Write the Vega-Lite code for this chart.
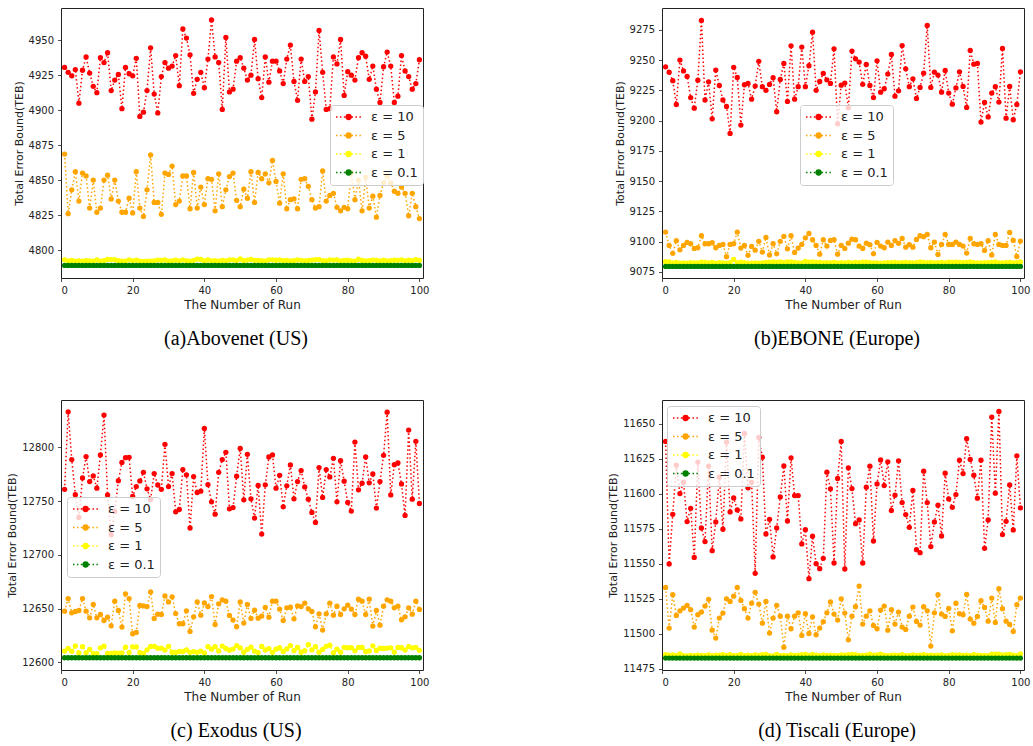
{
"$schema": "https://vega.github.io/schema/vega-lite/v6.json",
"background": "white",
"padding": {"left": 6, "top": 7, "right": 2, "bottom": 5},
"columns": 2,
"spacing": {"row": 50, "column": 177},
"resolve": {"scale": {"color": "independent", "x": "independent", "y": "independent"}, "legend": {"color": "independent"}},
"config": {
 "view": {"stroke": "#222", "strokeWidth": 1},
 "axis": {"grid": false, "domain": false, "tickColor": "#222", "tickSize": 3.5, "tickWidth": 0.8, "labelFont": "DejaVu Sans", "labelFontSize": 10, "labelColor": "#222", "titleFont": "DejaVu Sans", "titleFontWeight": "normal", "titleColor": "#222", "labelPadding": 4, "titlePadding": 4},
 "axisY": {"titleFontSize": 11},
 "axisX": {"titleFontSize": 12},
 "legend": {"labelFont": "DejaVu Sans", "labelFontSize": 13, "labelColor": "#222", "symbolType": "M-1,0H-0.75M-0.35,0H-0.1M0.3,0H0.55M1.6,0H1.85M2.25,0H2.5M2.9,0H3.15M1.5,0A0.4,0.4,0,1,1,0.7,0A0.4,0.4,0,1,1,1.5,0M1.4,0A0.3,0.3,0,1,1,0.8,0A0.3,0.3,0,1,1,1.4,0M1.3,0A0.2,0.2,0,1,1,0.9,0A0.2,0.2,0,1,1,1.3,0M1.2,0A0.1,0.1,0,1,1,1,0A0.1,0.1,0,1,1,1.2,0", "symbolSize": 144, "symbolStrokeWidth": 1.5, "symbolOpacity": 1, "rowPadding": 4.5, "padding": 5, "fillColor": "rgba(255,255,255,0.8)", "strokeColor": "#cccccc", "cornerRadius": 3},
 "title": {"orient": "bottom", "anchor": "middle", "frame": "group", "font": "Liberation Serif", "fontSize": 20, "fontWeight": "normal", "color": "#000", "offset": 18, "dx": -6}
},
"datasets": {
"a": [
{"r":1,"s1":4930.5,"s2":4868.6,"s3":4793,"s4":4789},
{"r":2,"s1":4927,"s2":4826,"s3":4792.2,"s4":4789},
{"r":3,"s1":4924.5,"s2":4843,"s3":4792.5,"s4":4789},
{"r":4,"s1":4929,"s2":4856,"s3":4792,"s4":4789},
{"r":5,"s1":4905,"s2":4835,"s3":4792.3,"s4":4789},
{"r":6,"s1":4928.5,"s2":4855,"s3":4792.1,"s4":4789},
{"r":7,"s1":4938,"s2":4853,"s3":4792.4,"s4":4789},
{"r":8,"s1":4926.5,"s2":4830,"s3":4792.2,"s4":4789},
{"r":9,"s1":4917,"s2":4850,"s3":4792,"s4":4789},
{"r":10,"s1":4912.5,"s2":4827,"s3":4792.9,"s4":4789},
{"r":11,"s1":4937.5,"s2":4830,"s3":4792.1,"s4":4789},
{"r":12,"s1":4934,"s2":4850,"s3":4792.4,"s4":4789},
{"r":13,"s1":4941,"s2":4853.5,"s3":4793.3,"s4":4789},
{"r":14,"s1":4914,"s2":4836.5,"s3":4793.2,"s4":4789},
{"r":15,"s1":4921.5,"s2":4850,"s3":4793.1,"s4":4789},
{"r":16,"s1":4925.5,"s2":4835,"s3":4792.4,"s4":4789},
{"r":17,"s1":4901,"s2":4827,"s3":4792,"s4":4789},
{"r":18,"s1":4930.5,"s2":4827,"s3":4792.1,"s4":4789},
{"r":19,"s1":4926,"s2":4837,"s3":4793,"s4":4789},
{"r":20,"s1":4924.5,"s2":4826.5,"s3":4792.3,"s4":4789},
{"r":21,"s1":4937,"s2":4856,"s3":4792.8,"s4":4789},
{"r":22,"s1":4895.5,"s2":4830,"s3":4792.1,"s4":4789},
{"r":23,"s1":4898.5,"s2":4824,"s3":4791.9,"s4":4789},
{"r":24,"s1":4914,"s2":4843,"s3":4792,"s4":4789},
{"r":25,"s1":4944.5,"s2":4868,"s3":4792.1,"s4":4789},
{"r":26,"s1":4911.5,"s2":4834,"s3":4792.3,"s4":4789},
{"r":27,"s1":4898,"s2":4834,"s3":4792.8,"s4":4789},
{"r":28,"s1":4924,"s2":4825.5,"s3":4792.5,"s4":4789},
{"r":29,"s1":4934,"s2":4855,"s3":4792.9,"s4":4789},
{"r":30,"s1":4930,"s2":4854,"s3":4792,"s4":4789},
{"r":31,"s1":4931.5,"s2":4860,"s3":4792.2,"s4":4789},
{"r":32,"s1":4939,"s2":4832.5,"s3":4792.8,"s4":4789},
{"r":33,"s1":4917.5,"s2":4835,"s3":4792.3,"s4":4789},
{"r":34,"s1":4958,"s2":4853,"s3":4792.9,"s4":4789},
{"r":35,"s1":4951.5,"s2":4853,"s3":4792.3,"s4":4789},
{"r":36,"s1":4939.5,"s2":4829.5,"s3":4792.1,"s4":4789},
{"r":37,"s1":4912,"s2":4855.5,"s3":4792.6,"s4":4789},
{"r":38,"s1":4922,"s2":4830,"s3":4793.5,"s4":4789},
{"r":39,"s1":4927,"s2":4845,"s3":4793.3,"s4":4789},
{"r":40,"s1":4916,"s2":4832.5,"s3":4792.2,"s4":4789},
{"r":41,"s1":4936.5,"s2":4851,"s3":4792.9,"s4":4789},
{"r":42,"s1":4964.5,"s2":4850.5,"s3":4792.3,"s4":4789},
{"r":43,"s1":4938,"s2":4828,"s3":4792.4,"s4":4789},
{"r":44,"s1":4934,"s2":4854.5,"s3":4792,"s4":4789},
{"r":45,"s1":4900.5,"s2":4831,"s3":4792.6,"s4":4789},
{"r":46,"s1":4952,"s2":4843,"s3":4792.3,"s4":4789},
{"r":47,"s1":4913,"s2":4852.5,"s3":4792.9,"s4":4789},
{"r":48,"s1":4915,"s2":4855,"s3":4793,"s4":4789},
{"r":49,"s1":4935,"s2":4835.5,"s3":4792.4,"s4":4789},
{"r":50,"s1":4937.5,"s2":4831,"s3":4793.6,"s4":4789},
{"r":51,"s1":4930,"s2":4843.5,"s3":4792.4,"s4":4789},
{"r":52,"s1":4921.5,"s2":4837,"s3":4792.8,"s4":4789},
{"r":53,"s1":4925,"s2":4856,"s3":4793.3,"s4":4789},
{"r":54,"s1":4950.5,"s2":4834,"s3":4792.6,"s4":4789},
{"r":55,"s1":4922.5,"s2":4855.5,"s3":4792.6,"s4":4789},
{"r":56,"s1":4909,"s2":4851,"s3":4792.4,"s4":4789},
{"r":57,"s1":4938,"s2":4854.5,"s3":4792.1,"s4":4789},
{"r":58,"s1":4920,"s2":4848,"s3":4793,"s4":4789},
{"r":59,"s1":4935,"s2":4864,"s3":4793,"s4":4789},
{"r":60,"s1":4935,"s2":4849,"s3":4792.7,"s4":4789},
{"r":61,"s1":4928,"s2":4833.5,"s3":4792.9,"s4":4789},
{"r":62,"s1":4919,"s2":4854.5,"s3":4792.4,"s4":4789},
{"r":63,"s1":4936.5,"s2":4829.5,"s3":4792.6,"s4":4789},
{"r":64,"s1":4946.5,"s2":4836,"s3":4792.3,"s4":4789},
{"r":65,"s1":4920.5,"s2":4836.5,"s3":4792.4,"s4":4789},
{"r":66,"s1":4907,"s2":4829.5,"s3":4792.9,"s4":4789},
{"r":67,"s1":4936.5,"s2":4850.5,"s3":4792.6,"s4":4789},
{"r":68,"s1":4920.5,"s2":4851,"s3":4792.3,"s4":4789},
{"r":69,"s1":4924,"s2":4845.5,"s3":4792.5,"s4":4789},
{"r":70,"s1":4893.5,"s2":4836,"s3":4792.8,"s4":4789},
{"r":71,"s1":4913,"s2":4830,"s3":4793.1,"s4":4789},
{"r":72,"s1":4957,"s2":4831,"s3":4793.2,"s4":4789},
{"r":73,"s1":4927,"s2":4856.5,"s3":4792.4,"s4":4789},
{"r":74,"s1":4900.5,"s2":4835,"s3":4792.2,"s4":4789},
{"r":75,"s1":4901,"s2":4839,"s3":4792.9,"s4":4789},
{"r":76,"s1":4938,"s2":4840.5,"s3":4792.8,"s4":4789},
{"r":77,"s1":4933,"s2":4830.5,"s3":4792.9,"s4":4789},
{"r":78,"s1":4950.5,"s2":4828,"s3":4792.3,"s4":4789},
{"r":79,"s1":4910.5,"s2":4830.5,"s3":4792.5,"s4":4789},
{"r":80,"s1":4927.5,"s2":4829.5,"s3":4792.7,"s4":4789},
{"r":81,"s1":4925,"s2":4855.5,"s3":4792.3,"s4":4789},
{"r":82,"s1":4921.5,"s2":4836,"s3":4792,"s4":4789},
{"r":83,"s1":4937.5,"s2":4850,"s3":4793.4,"s4":4789},
{"r":84,"s1":4941,"s2":4828,"s3":4792.5,"s4":4789},
{"r":85,"s1":4938.5,"s2":4852,"s3":4792.3,"s4":4789},
{"r":86,"s1":4922,"s2":4830,"s3":4792.4,"s4":4789},
{"r":87,"s1":4931.5,"s2":4838.5,"s3":4792.8,"s4":4789},
{"r":88,"s1":4915,"s2":4823.5,"s3":4792.6,"s4":4789},
{"r":89,"s1":4905.5,"s2":4839,"s3":4792.2,"s4":4789},
{"r":90,"s1":4931,"s2":4848,"s3":4792.7,"s4":4789},
{"r":91,"s1":4941.5,"s2":4853,"s3":4792.3,"s4":4789},
{"r":92,"s1":4931.5,"s2":4848,"s3":4792.4,"s4":4789},
{"r":93,"s1":4905.5,"s2":4842,"s3":4792.7,"s4":4789},
{"r":94,"s1":4910,"s2":4840.5,"s3":4792.6,"s4":4789},
{"r":95,"s1":4939,"s2":4845,"s3":4792.9,"s4":4789},
{"r":96,"s1":4928,"s2":4840.5,"s3":4792.3,"s4":4789},
{"r":97,"s1":4924,"s2":4824.5,"s3":4792.7,"s4":4789},
{"r":98,"s1":4915,"s2":4840.5,"s3":4792.4,"s4":4789},
{"r":99,"s1":4919,"s2":4831,"s3":4793.1,"s4":4789},
{"r":100,"s1":4936,"s2":4822.5,"s3":4792.6,"s4":4789}
],
"b": [
{"r":1,"s1":9244.4,"s2":9107.9,"s3":9083.5,"s4":9079.6},
{"r":2,"s1":9240,"s2":9096.9,"s3":9083.3,"s4":9079.6},
{"r":3,"s1":9233,"s2":9090.3,"s3":9082.5,"s4":9079.6},
{"r":4,"s1":9213.3,"s2":9100.8,"s3":9082.8,"s4":9079.6},
{"r":5,"s1":9250,"s2":9093.3,"s3":9082.2,"s4":9079.6},
{"r":6,"s1":9241,"s2":9096.9,"s3":9082.5,"s4":9079.6},
{"r":7,"s1":9236.5,"s2":9099.4,"s3":9082.3,"s4":9079.6},
{"r":8,"s1":9219,"s2":9098.3,"s3":9082.6,"s4":9079.6},
{"r":9,"s1":9210.3,"s2":9094.4,"s3":9082.4,"s4":9079.6},
{"r":10,"s1":9233.4,"s2":9095,"s3":9082.5,"s4":9079.6},
{"r":11,"s1":9282.7,"s2":9104.9,"s3":9083,"s4":9079.6},
{"r":12,"s1":9217,"s2":9098.3,"s3":9082.9,"s4":9079.6},
{"r":13,"s1":9232,"s2":9098.3,"s3":9082.5,"s4":9079.6},
{"r":14,"s1":9201.5,"s2":9099.1,"s3":9082.9,"s4":9079.6},
{"r":15,"s1":9241.7,"s2":9095,"s3":9082.3,"s4":9079.6},
{"r":16,"s1":9229,"s2":9096.9,"s3":9082.6,"s4":9079.6},
{"r":17,"s1":9217,"s2":9097.7,"s3":9082.4,"s4":9079.6},
{"r":18,"s1":9211.7,"s2":9087.6,"s3":9082.2,"s4":9079.6},
{"r":19,"s1":9189.4,"s2":9097.7,"s3":9082.6,"s4":9079.6},
{"r":20,"s1":9244,"s2":9098.3,"s3":9085.3,"s4":9079.6},
{"r":21,"s1":9235.6,"s2":9107.9,"s3":9082.4,"s4":9079.6},
{"r":22,"s1":9196.3,"s2":9094.7,"s3":9083,"s4":9079.6},
{"r":23,"s1":9229.6,"s2":9096.9,"s3":9082.6,"s4":9079.6},
{"r":24,"s1":9230.7,"s2":9088.7,"s3":9082.3,"s4":9079.6},
{"r":25,"s1":9217.7,"s2":9096.1,"s3":9082.2,"s4":9079.6},
{"r":26,"s1":9228.5,"s2":9093,"s3":9082.5,"s4":9079.6},
{"r":27,"s1":9249,"s2":9100.3,"s3":9082.3,"s4":9079.6},
{"r":28,"s1":9228,"s2":9091.4,"s3":9082.5,"s4":9079.6},
{"r":29,"s1":9225,"s2":9103.5,"s3":9082.8,"s4":9079.6},
{"r":30,"s1":9229.9,"s2":9089,"s3":9083.1,"s4":9079.6},
{"r":31,"s1":9235.4,"s2":9098.3,"s3":9083.4,"s4":9079.6},
{"r":32,"s1":9207.3,"s2":9090,"s3":9082.9,"s4":9079.6},
{"r":33,"s1":9234,"s2":9100.3,"s3":9083.2,"s4":9079.6},
{"r":34,"s1":9247.2,"s2":9104.4,"s3":9082.6,"s4":9079.6},
{"r":35,"s1":9215.8,"s2":9094.1,"s3":9083.4,"s4":9079.6},
{"r":36,"s1":9261.8,"s2":9104.9,"s3":9083.2,"s4":9079.6},
{"r":37,"s1":9217.7,"s2":9091.1,"s3":9082.8,"s4":9079.6},
{"r":38,"s1":9228,"s2":9094.7,"s3":9082.5,"s4":9079.6},
{"r":39,"s1":9260.7,"s2":9097.7,"s3":9082.4,"s4":9079.6},
{"r":40,"s1":9228,"s2":9103.2,"s3":9083.8,"s4":9079.6},
{"r":41,"s1":9245.3,"s2":9106.8,"s3":9083.1,"s4":9079.6},
{"r":42,"s1":9273,"s2":9101.6,"s3":9083.2,"s4":9079.6},
{"r":43,"s1":9225,"s2":9096.9,"s3":9082.8,"s4":9079.6},
{"r":44,"s1":9232.3,"s2":9089.7,"s3":9082.9,"s4":9079.6},
{"r":45,"s1":9239,"s2":9101.6,"s3":9082.4,"s4":9079.6},
{"r":46,"s1":9233.7,"s2":9096.4,"s3":9082.6,"s4":9079.6},
{"r":47,"s1":9230.7,"s2":9101,"s3":9082.4,"s4":9079.6},
{"r":48,"s1":9259.3,"s2":9101.6,"s3":9082.8,"s4":9079.6},
{"r":49,"s1":9197.4,"s2":9089.7,"s3":9082.5,"s4":9079.6},
{"r":50,"s1":9229.3,"s2":9097,"s3":9082.6,"s4":9079.6},
{"r":51,"s1":9231,"s2":9094.4,"s3":9082.5,"s4":9079.6},
{"r":52,"s1":9210.6,"s2":9098.8,"s3":9082.8,"s4":9079.6},
{"r":53,"s1":9257.4,"s2":9102.1,"s3":9082.4,"s4":9079.6},
{"r":54,"s1":9251,"s2":9101.6,"s3":9082.9,"s4":9079.6},
{"r":55,"s1":9248.3,"s2":9096.4,"s3":9082.7,"s4":9079.6},
{"r":56,"s1":9230,"s2":9094.4,"s3":9083.1,"s4":9079.6},
{"r":57,"s1":9246.4,"s2":9098.8,"s3":9083,"s4":9079.6},
{"r":58,"s1":9229,"s2":9097.5,"s3":9082.6,"s4":9079.6},
{"r":59,"s1":9219,"s2":9090,"s3":9082.4,"s4":9079.6},
{"r":60,"s1":9249.4,"s2":9099.4,"s3":9082.5,"s4":9079.6},
{"r":61,"s1":9223.5,"s2":9096.4,"s3":9082.3,"s4":9079.6},
{"r":62,"s1":9226.3,"s2":9095,"s3":9082.5,"s4":9079.6},
{"r":63,"s1":9238.4,"s2":9099.7,"s3":9082.6,"s4":9079.6},
{"r":64,"s1":9254.6,"s2":9096.9,"s3":9082.7,"s4":9079.6},
{"r":65,"s1":9220.2,"s2":9100.8,"s3":9082.9,"s4":9079.6},
{"r":66,"s1":9224.6,"s2":9098.6,"s3":9082.4,"s4":9079.6},
{"r":67,"s1":9262,"s2":9102.7,"s3":9082.6,"s4":9079.6},
{"r":68,"s1":9242.8,"s2":9095.5,"s3":9082.8,"s4":9079.6},
{"r":69,"s1":9228,"s2":9097.5,"s3":9082.7,"s4":9079.6},
{"r":70,"s1":9234.5,"s2":9095.5,"s3":9082.5,"s4":9079.6},
{"r":71,"s1":9218.3,"s2":9101.9,"s3":9082.6,"s4":9079.6},
{"r":72,"s1":9227.4,"s2":9104.9,"s3":9083.2,"s4":9079.6},
{"r":73,"s1":9239.2,"s2":9104.1,"s3":9082.8,"s4":9079.6},
{"r":74,"s1":9278.6,"s2":9106,"s3":9082.6,"s4":9079.6},
{"r":75,"s1":9227.4,"s2":9095,"s3":9082.9,"s4":9079.6},
{"r":76,"s1":9240,"s2":9099.7,"s3":9082.4,"s4":9079.6},
{"r":77,"s1":9237.6,"s2":9089.5,"s3":9082.6,"s4":9079.6},
{"r":78,"s1":9223.5,"s2":9097.7,"s3":9082.9,"s4":9079.6},
{"r":79,"s1":9241.4,"s2":9106,"s3":9082.5,"s4":9079.6},
{"r":80,"s1":9222.7,"s2":9097.7,"s3":9083,"s4":9079.6},
{"r":81,"s1":9213.6,"s2":9097.7,"s3":9082.9,"s4":9079.6},
{"r":82,"s1":9227,"s2":9099.7,"s3":9083.1,"s4":9079.6},
{"r":83,"s1":9240.3,"s2":9097.7,"s3":9082.8,"s4":9079.6},
{"r":84,"s1":9228.2,"s2":9096.4,"s3":9082.6,"s4":9079.6},
{"r":85,"s1":9210.9,"s2":9090.6,"s3":9082.9,"s4":9079.6},
{"r":86,"s1":9258,"s2":9102.7,"s3":9083.2,"s4":9079.6},
{"r":87,"s1":9246.6,"s2":9098.3,"s3":9082.6,"s4":9079.6},
{"r":88,"s1":9247.2,"s2":9097.7,"s3":9082.5,"s4":9079.6},
{"r":89,"s1":9198.8,"s2":9098.3,"s3":9082.4,"s4":9079.6},
{"r":90,"s1":9215,"s2":9092.8,"s3":9082.7,"s4":9079.6},
{"r":91,"s1":9203,"s2":9100.8,"s3":9082.6,"s4":9079.6},
{"r":92,"s1":9222.7,"s2":9089,"s3":9082.9,"s4":9079.6},
{"r":93,"s1":9228,"s2":9106,"s3":9083.3,"s4":9079.6},
{"r":94,"s1":9215.3,"s2":9097.7,"s3":9082.5,"s4":9079.6},
{"r":95,"s1":9259.6,"s2":9096.9,"s3":9082.4,"s4":9079.6},
{"r":96,"s1":9202,"s2":9096.9,"s3":9082.7,"s4":9079.6},
{"r":97,"s1":9228.2,"s2":9107.6,"s3":9082.9,"s4":9079.6},
{"r":98,"s1":9200.7,"s2":9101,"s3":9082.5,"s4":9079.6},
{"r":99,"s1":9213.3,"s2":9087.8,"s3":9082.8,"s4":9079.6},
{"r":100,"s1":9240.3,"s2":9100.5,"s3":9083.4,"s4":9079.6}
],
"c": [
{"r":1,"s1":12761,"s2":12647.7,"s3":12610.6,"s4":12604.4},
{"r":2,"s1":12833,"s2":12659.4,"s3":12613.1,"s4":12604.4},
{"r":3,"s1":12788.6,"s2":12646.2,"s3":12610.4,"s4":12604.4},
{"r":4,"s1":12756,"s2":12647.4,"s3":12615.3,"s4":12604.4},
{"r":5,"s1":12734.8,"s2":12648.3,"s3":12608.8,"s4":12604.4},
{"r":6,"s1":12771.6,"s2":12659.4,"s3":12614.7,"s4":12604.4},
{"r":7,"s1":12791.4,"s2":12647.7,"s3":12609.1,"s4":12604.4},
{"r":8,"s1":12768.2,"s2":12641.5,"s3":12612.2,"s4":12604.4},
{"r":9,"s1":12773.4,"s2":12653.9,"s3":12608.2,"s4":12604.4},
{"r":10,"s1":12762,"s2":12641.5,"s3":12608.2,"s4":12604.4},
{"r":11,"s1":12792.9,"s2":12644.6,"s3":12613.6,"s4":12604.4},
{"r":12,"s1":12830,"s2":12639,"s3":12615.1,"s4":12604.4},
{"r":13,"s1":12755.8,"s2":12642.1,"s3":12608.4,"s4":12604.4},
{"r":14,"s1":12718.8,"s2":12634.1,"s3":12608.4,"s4":12604.4},
{"r":15,"s1":12740.4,"s2":12657,"s3":12608.8,"s4":12604.4},
{"r":16,"s1":12769,"s2":12648.3,"s3":12608.7,"s4":12604.4},
{"r":17,"s1":12786,"s2":12632.9,"s3":12609,"s4":12604.4},
{"r":18,"s1":12790.4,"s2":12663.8,"s3":12614.2,"s4":12604.4},
{"r":19,"s1":12790.7,"s2":12659.4,"s3":12609.2,"s4":12604.4},
{"r":20,"s1":12754.3,"s2":12626.7,"s3":12614.5,"s4":12604.4},
{"r":21,"s1":12763.5,"s2":12627.9,"s3":12614.4,"s4":12604.4},
{"r":22,"s1":12768.8,"s2":12653,"s3":12609.2,"s4":12604.4},
{"r":23,"s1":12776.8,"s2":12652.6,"s3":12608.5,"s4":12604.4},
{"r":24,"s1":12761.4,"s2":12652,"s3":12611.8,"s4":12604.4},
{"r":25,"s1":12751.5,"s2":12665.6,"s3":12614.9,"s4":12604.4},
{"r":26,"s1":12775.6,"s2":12640.9,"s3":12615,"s4":12604.4},
{"r":27,"s1":12765,"s2":12644.9,"s3":12613.3,"s4":12604.4},
{"r":28,"s1":12761,"s2":12644.6,"s3":12613.3,"s4":12604.4},
{"r":29,"s1":12802.8,"s2":12661.9,"s3":12611.5,"s4":12604.4},
{"r":30,"s1":12763.5,"s2":12656.3,"s3":12615,"s4":12604.4},
{"r":31,"s1":12775.6,"s2":12661,"s3":12609.5,"s4":12604.4},
{"r":32,"s1":12740,"s2":12645.5,"s3":12609.3,"s4":12604.4},
{"r":33,"s1":12742.2,"s2":12636,"s3":12610.3,"s4":12604.4},
{"r":34,"s1":12779.3,"s2":12636,"s3":12610.2,"s4":12604.4},
{"r":35,"s1":12774.4,"s2":12648,"s3":12611.7,"s4":12604.4},
{"r":36,"s1":12725,"s2":12628.9,"s3":12609.4,"s4":12604.4},
{"r":37,"s1":12772.8,"s2":12642.4,"s3":12610.1,"s4":12604.4},
{"r":38,"s1":12758,"s2":12656.3,"s3":12609.4,"s4":12604.4},
{"r":39,"s1":12759.2,"s2":12644,"s3":12610.6,"s4":12604.4},
{"r":40,"s1":12817.6,"s2":12655.4,"s3":12608.6,"s4":12604.4},
{"r":41,"s1":12765.4,"s2":12652,"s3":12614.6,"s4":12604.4},
{"r":42,"s1":12749.3,"s2":12661.3,"s3":12612.4,"s4":12604.4},
{"r":43,"s1":12737.9,"s2":12635.3,"s3":12614.7,"s4":12604.4},
{"r":44,"s1":12776.8,"s2":12654.5,"s3":12610.7,"s4":12604.4},
{"r":45,"s1":12788.6,"s2":12658.2,"s3":12615.2,"s4":12604.4},
{"r":46,"s1":12795.4,"s2":12657,"s3":12613,"s4":12604.4},
{"r":47,"s1":12742.8,"s2":12643.7,"s3":12611.4,"s4":12604.4},
{"r":48,"s1":12744,"s2":12639.4,"s3":12612.5,"s4":12604.4},
{"r":49,"s1":12773.1,"s2":12633.2,"s3":12615.7,"s4":12604.4},
{"r":50,"s1":12799,"s2":12656.3,"s3":12613.5,"s4":12604.4},
{"r":51,"s1":12751.2,"s2":12636.6,"s3":12609.5,"s4":12604.4},
{"r":52,"s1":12793.5,"s2":12653.9,"s3":12612.2,"s4":12604.4},
{"r":53,"s1":12752.1,"s2":12640.9,"s3":12614.3,"s4":12604.4},
{"r":54,"s1":12734.2,"s2":12648.6,"s3":12610.5,"s4":12604.4},
{"r":55,"s1":12764.5,"s2":12641.2,"s3":12609.2,"s4":12604.4},
{"r":56,"s1":12719.4,"s2":12643.1,"s3":12614.9,"s4":12604.4},
{"r":57,"s1":12765.1,"s2":12651.1,"s3":12611.6,"s4":12604.4},
{"r":58,"s1":12791,"s2":12642.1,"s3":12612.9,"s4":12604.4},
{"r":59,"s1":12792.9,"s2":12657,"s3":12609.4,"s4":12604.4},
{"r":60,"s1":12762,"s2":12657,"s3":12612.4,"s4":12604.4},
{"r":61,"s1":12774,"s2":12649.6,"s3":12613.7,"s4":12604.4},
{"r":62,"s1":12744.7,"s2":12639,"s3":12610.3,"s4":12604.4},
{"r":63,"s1":12764.2,"s2":12650.8,"s3":12612.6,"s4":12604.4},
{"r":64,"s1":12783.6,"s2":12651.4,"s3":12615.6,"s4":12604.4},
{"r":65,"s1":12752.1,"s2":12640.6,"s3":12611,"s4":12604.4},
{"r":66,"s1":12768.2,"s2":12652.7,"s3":12613.9,"s4":12604.4},
{"r":67,"s1":12778.4,"s2":12652,"s3":12609.5,"s4":12604.4},
{"r":68,"s1":12763.2,"s2":12655.1,"s3":12610.9,"s4":12604.4},
{"r":69,"s1":12751.8,"s2":12649.9,"s3":12616.5,"s4":12604.4},
{"r":70,"s1":12739.5,"s2":12647.4,"s3":12611.7,"s4":12604.4},
{"r":71,"s1":12730.2,"s2":12633.2,"s3":12614.7,"s4":12604.4},
{"r":72,"s1":12781.2,"s2":12645.2,"s3":12609.6,"s4":12604.4},
{"r":73,"s1":12753.4,"s2":12630.1,"s3":12612.1,"s4":12604.4},
{"r":74,"s1":12779.3,"s2":12645.2,"s3":12615,"s4":12604.4},
{"r":75,"s1":12772.5,"s2":12655.1,"s3":12616,"s4":12604.4},
{"r":76,"s1":12789.8,"s2":12644,"s3":12609.1,"s4":12604.4},
{"r":77,"s1":12749.3,"s2":12652.3,"s3":12612.4,"s4":12604.4},
{"r":78,"s1":12787.6,"s2":12644.6,"s3":12609.6,"s4":12604.4},
{"r":79,"s1":12768.5,"s2":12649.9,"s3":12614.1,"s4":12604.4},
{"r":80,"s1":12748.7,"s2":12653.3,"s3":12613.7,"s4":12604.4},
{"r":81,"s1":12740.7,"s2":12649.6,"s3":12613.8,"s4":12604.4},
{"r":82,"s1":12804.9,"s2":12644.6,"s3":12610.8,"s4":12604.4},
{"r":83,"s1":12760.5,"s2":12658.8,"s3":12614,"s4":12604.4},
{"r":84,"s1":12766.6,"s2":12657,"s3":12614,"s4":12604.4},
{"r":85,"s1":12791,"s2":12644.6,"s3":12610.2,"s4":12604.4},
{"r":86,"s1":12767,"s2":12658.8,"s3":12610.7,"s4":12604.4},
{"r":87,"s1":12775.3,"s2":12633.8,"s3":12615.5,"s4":12604.4},
{"r":88,"s1":12743.5,"s2":12648.3,"s3":12611.2,"s4":12604.4},
{"r":89,"s1":12768.2,"s2":12634.7,"s3":12613.2,"s4":12604.4},
{"r":90,"s1":12792.6,"s2":12652.3,"s3":12613,"s4":12604.4},
{"r":91,"s1":12832.7,"s2":12658.2,"s3":12613.4,"s4":12604.4},
{"r":92,"s1":12755.8,"s2":12657,"s3":12613.6,"s4":12604.4},
{"r":93,"s1":12783.9,"s2":12650.8,"s3":12609.7,"s4":12604.4},
{"r":94,"s1":12785.5,"s2":12652.3,"s3":12614,"s4":12604.4},
{"r":95,"s1":12766,"s2":12639.7,"s3":12613.7,"s4":12604.4},
{"r":96,"s1":12736.7,"s2":12642.4,"s3":12611.5,"s4":12604.4},
{"r":97,"s1":12816,"s2":12650.8,"s3":12614.8,"s4":12604.4},
{"r":98,"s1":12751.8,"s2":12644.9,"s3":12613.6,"s4":12604.4},
{"r":99,"s1":12805.6,"s2":12657,"s3":12614,"s4":12604.4},
{"r":100,"s1":12747.8,"s2":12649.3,"s3":12611.3,"s4":12604.4}
],
"d": [
{"r":1,"s1":11637.4,"s2":11533,"s3":11485,"s4":11482.5},
{"r":2,"s1":11549.8,"s2":11504,"s3":11484.6,"s4":11482.5},
{"r":3,"s1":11585.3,"s2":11527.8,"s3":11484.8,"s4":11482.5},
{"r":4,"s1":11620.4,"s2":11513,"s3":11484.2,"s4":11482.5},
{"r":5,"s1":11600.1,"s2":11516.3,"s3":11485.6,"s4":11482.5},
{"r":6,"s1":11608.2,"s2":11518.3,"s3":11484.3,"s4":11482.5},
{"r":7,"s1":11580.1,"s2":11520.2,"s3":11484.1,"s4":11482.5},
{"r":8,"s1":11589.6,"s2":11517.1,"s3":11484.4,"s4":11482.5},
{"r":9,"s1":11554.5,"s2":11504.7,"s3":11484.2,"s4":11482.5},
{"r":10,"s1":11622.6,"s2":11513.5,"s3":11484.6,"s4":11482.5},
{"r":11,"s1":11575.5,"s2":11515.4,"s3":11484.5,"s4":11482.5},
{"r":12,"s1":11565.8,"s2":11519.7,"s3":11484.3,"s4":11482.5},
{"r":13,"s1":11619.7,"s2":11524.5,"s3":11484.8,"s4":11482.5},
{"r":14,"s1":11559.3,"s2":11502.5,"s3":11484.2,"s4":11482.5},
{"r":15,"s1":11579.8,"s2":11496.8,"s3":11484.7,"s4":11482.5},
{"r":16,"s1":11611.8,"s2":11511.1,"s3":11484.6,"s4":11482.5},
{"r":17,"s1":11574.6,"s2":11514.7,"s3":11484.9,"s4":11482.5},
{"r":18,"s1":11636.9,"s2":11524.9,"s3":11484.5,"s4":11482.5},
{"r":19,"s1":11587,"s2":11523,"s3":11485,"s4":11482.5},
{"r":20,"s1":11597,"s2":11526.8,"s3":11484.3,"s4":11482.5},
{"r":21,"s1":11588.4,"s2":11533,"s3":11484.5,"s4":11482.5},
{"r":22,"s1":11582,"s2":11523.7,"s3":11485.1,"s4":11482.5},
{"r":23,"s1":11643.1,"s2":11517.8,"s3":11484.3,"s4":11482.5},
{"r":24,"s1":11604.2,"s2":11511.1,"s3":11484.6,"s4":11482.5},
{"r":25,"s1":11608.2,"s2":11521.8,"s3":11484.2,"s4":11482.5},
{"r":26,"s1":11543.1,"s2":11529.5,"s3":11484.8,"s4":11482.5},
{"r":27,"s1":11640.2,"s2":11521.1,"s3":11484.5,"s4":11482.5},
{"r":28,"s1":11626.1,"s2":11507.5,"s3":11484.9,"s4":11482.5},
{"r":29,"s1":11571.2,"s2":11523,"s3":11485.2,"s4":11482.5},
{"r":30,"s1":11581.7,"s2":11500.4,"s3":11484.3,"s4":11482.5},
{"r":31,"s1":11554.8,"s2":11511.1,"s3":11484.1,"s4":11482.5},
{"r":32,"s1":11575.5,"s2":11520.2,"s3":11485.1,"s4":11482.5},
{"r":33,"s1":11597.7,"s2":11512.5,"s3":11484.3,"s4":11482.5},
{"r":34,"s1":11619.9,"s2":11490.3,"s3":11484.5,"s4":11482.5},
{"r":35,"s1":11580.5,"s2":11512.5,"s3":11484.2,"s4":11482.5},
{"r":36,"s1":11625.7,"s2":11503.5,"s3":11484.8,"s4":11482.5},
{"r":37,"s1":11598.7,"s2":11512.5,"s3":11484.4,"s4":11482.5},
{"r":38,"s1":11598.7,"s2":11514.9,"s3":11484.6,"s4":11482.5},
{"r":39,"s1":11564.1,"s2":11498.7,"s3":11484.9,"s4":11482.5},
{"r":40,"s1":11574.3,"s2":11514.2,"s3":11485.1,"s4":11482.5},
{"r":41,"s1":11539.3,"s2":11500.1,"s3":11484.4,"s4":11482.5},
{"r":42,"s1":11569.6,"s2":11512,"s3":11485.2,"s4":11482.5},
{"r":43,"s1":11550,"s2":11499.2,"s3":11484.6,"s4":11482.5},
{"r":44,"s1":11546.4,"s2":11504,"s3":11484.3,"s4":11482.5},
{"r":45,"s1":11553.8,"s2":11508.5,"s3":11484.8,"s4":11482.5},
{"r":46,"s1":11615.4,"s2":11514.9,"s3":11484.4,"s4":11482.5},
{"r":47,"s1":11603.5,"s2":11522.6,"s3":11484.6,"s4":11482.5},
{"r":48,"s1":11550.5,"s2":11514,"s3":11484.5,"s4":11482.5},
{"r":49,"s1":11610.9,"s2":11509.7,"s3":11484.2,"s4":11482.5},
{"r":50,"s1":11637.4,"s2":11524.9,"s3":11484.8,"s4":11482.5},
{"r":51,"s1":11546.2,"s2":11514.7,"s3":11484.6,"s4":11482.5},
{"r":52,"s1":11618.5,"s2":11495.6,"s3":11484.9,"s4":11482.5},
{"r":53,"s1":11603.7,"s2":11512.5,"s3":11485.2,"s4":11482.5},
{"r":54,"s1":11578.6,"s2":11519.2,"s3":11485,"s4":11482.5},
{"r":55,"s1":11581.3,"s2":11534,"s3":11484.5,"s4":11482.5},
{"r":56,"s1":11550.5,"s2":11506.8,"s3":11484.4,"s4":11482.5},
{"r":57,"s1":11604.7,"s2":11512.5,"s3":11484.6,"s4":11482.5},
{"r":58,"s1":11619.7,"s2":11516.3,"s3":11485.3,"s4":11482.5},
{"r":59,"s1":11566.2,"s2":11505.8,"s3":11484.6,"s4":11482.5},
{"r":60,"s1":11607,"s2":11503.5,"s3":11484.8,"s4":11482.5},
{"r":61,"s1":11624.2,"s2":11516.8,"s3":11485.3,"s4":11482.5},
{"r":62,"s1":11605.8,"s2":11519.7,"s3":11484.4,"s4":11482.5},
{"r":63,"s1":11622.8,"s2":11502.5,"s3":11484.2,"s4":11482.5},
{"r":64,"s1":11588,"s2":11517.1,"s3":11484.6,"s4":11482.5},
{"r":65,"s1":11598.9,"s2":11506.8,"s3":11484.7,"s4":11482.5},
{"r":66,"s1":11623.5,"s2":11515.4,"s3":11484.4,"s4":11482.5},
{"r":67,"s1":11593.7,"s2":11504.7,"s3":11484.9,"s4":11482.5},
{"r":68,"s1":11585.1,"s2":11503,"s3":11484.3,"s4":11482.5},
{"r":69,"s1":11576,"s2":11512.5,"s3":11484.5,"s4":11482.5},
{"r":70,"s1":11602.3,"s2":11519,"s3":11484.8,"s4":11482.5},
{"r":71,"s1":11560,"s2":11508.7,"s3":11484.4,"s4":11482.5},
{"r":72,"s1":11557.9,"s2":11506.1,"s3":11484.6,"s4":11482.5},
{"r":73,"s1":11616.1,"s2":11519.2,"s3":11484.9,"s4":11482.5},
{"r":74,"s1":11593.7,"s2":11516.3,"s3":11484.4,"s4":11482.5},
{"r":75,"s1":11562.2,"s2":11491.1,"s3":11484.6,"s4":11482.5},
{"r":76,"s1":11579.8,"s2":11514.9,"s3":11484.4,"s4":11482.5},
{"r":77,"s1":11591.8,"s2":11527.8,"s3":11484.5,"s4":11482.5},
{"r":78,"s1":11569.8,"s2":11514,"s3":11484.8,"s4":11482.5},
{"r":79,"s1":11614.7,"s2":11512.3,"s3":11484.3,"s4":11482.5},
{"r":80,"s1":11596.3,"s2":11518,"s3":11484.5,"s4":11482.5},
{"r":81,"s1":11590.3,"s2":11502,"s3":11485,"s4":11482.5},
{"r":82,"s1":11599.4,"s2":11521.8,"s3":11484.7,"s4":11482.5},
{"r":83,"s1":11624,"s2":11514.2,"s3":11484.8,"s4":11482.5},
{"r":84,"s1":11614.4,"s2":11513.5,"s3":11484.5,"s4":11482.5},
{"r":85,"s1":11639.3,"s2":11528,"s3":11484.6,"s4":11482.5},
{"r":86,"s1":11624.5,"s2":11510.4,"s3":11484.3,"s4":11482.5},
{"r":87,"s1":11613.2,"s2":11507.5,"s3":11484.9,"s4":11482.5},
{"r":88,"s1":11596.8,"s2":11512.3,"s3":11484.7,"s4":11482.5},
{"r":89,"s1":11624,"s2":11523.5,"s3":11484.4,"s4":11482.5},
{"r":90,"s1":11561,"s2":11518.7,"s3":11484.5,"s4":11482.5},
{"r":91,"s1":11581.3,"s2":11508.9,"s3":11484.3,"s4":11482.5},
{"r":92,"s1":11654.8,"s2":11525.4,"s3":11485.3,"s4":11482.5},
{"r":93,"s1":11600.4,"s2":11508,"s3":11485.4,"s4":11482.5},
{"r":94,"s1":11658.8,"s2":11532.1,"s3":11485.3,"s4":11482.5},
{"r":95,"s1":11570.8,"s2":11517.8,"s3":11484.6,"s4":11482.5},
{"r":96,"s1":11580.3,"s2":11508.9,"s3":11484.9,"s4":11482.5},
{"r":97,"s1":11606.3,"s2":11506.6,"s3":11485.1,"s4":11482.5},
{"r":98,"s1":11574.1,"s2":11501.6,"s3":11484.6,"s4":11482.5},
{"r":99,"s1":11627.1,"s2":11520.7,"s3":11484.3,"s4":11482.5},
{"r":100,"s1":11589.9,"s2":11525.4,"s3":11485.5,"s4":11482.5}
]
},
"concat": [
{
 "width": 362, "height": 270,
 "data": {"name": "a"},
 "transform": [{"fold": ["s1","s2","s3","s4"], "as": ["k","v"]}],
 "title": {"text": "(a)Abovenet (US)"},
 "encoding": {
  "x": {"field": "r", "type": "quantitative", "scale": {"domain": [0, 101], "nice": false}, "axis": {"values": [0,20,40,60,80,100], "format": "d", "title": "The Number of Run"}},
  "y": {"field": "v", "type": "quantitative", "scale": {"domain": [4780, 4973], "nice": false, "zero": false}, "axis": {"values": [4800,4825,4850,4875,4900,4925,4950], "format": "d", "title": "Total Error Bound(TEB)"}},
  "color": {"field": "k", "type": "nominal", "scale": {"domain": ["s1","s2","s3","s4"], "range": ["#ff0000","#ffa500","#ffff00","#008000"]}, "legend": {"title": null, "orient": "none", "legendX": 269, "legendY": 97, "labelOffset": 22, "labelFontSize": 13, "labelExpr": "datum.label == 's1' ? 'ε = 10' : datum.label == 's2' ? 'ε = 5' : datum.label == 's3' ? 'ε = 1' : 'ε = 0.1'"}}
 },
 "layer": [
  {"mark": {"type": "line", "strokeDash": [1.5, 2.5], "strokeWidth": 1.5}},
  {"mark": {"type": "point", "filled": true, "size": 28, "opacity": 1}, "encoding": {"order": {"field": "k", "type": "ordinal"}}}
 ]
},
{
 "width": 362, "height": 270,
 "data": {"name": "b"},
 "transform": [{"fold": ["s1","s2","s3","s4"], "as": ["k","v"]}],
 "title": {"text": "(b)EBONE (Europe)"},
 "encoding": {
  "x": {"field": "r", "type": "quantitative", "scale": {"domain": [0, 101], "nice": false}, "axis": {"values": [0,20,40,60,80,100], "format": "d", "title": "The Number of Run"}},
  "y": {"field": "v", "type": "quantitative", "scale": {"domain": [9070, 9293], "nice": false, "zero": false}, "axis": {"values": [9075,9100,9125,9150,9175,9200,9225,9250,9275], "format": "d", "title": "Total Error Bound(TEB)"}},
  "color": {"field": "k", "type": "nominal", "scale": {"domain": ["s1","s2","s3","s4"], "range": ["#ff0000","#ffa500","#ffff00","#008000"]}, "legend": {"title": null, "orient": "none", "legendX": 138, "legendY": 97, "labelOffset": 22, "labelFontSize": 13, "labelExpr": "datum.label == 's1' ? 'ε = 10' : datum.label == 's2' ? 'ε = 5' : datum.label == 's3' ? 'ε = 1' : 'ε = 0.1'"}}
 },
 "layer": [
  {"mark": {"type": "line", "strokeDash": [1.5, 2.5], "strokeWidth": 1.5}},
  {"mark": {"type": "point", "filled": true, "size": 28, "opacity": 1}, "encoding": {"order": {"field": "k", "type": "ordinal"}}}
 ]
},
{
 "width": 362, "height": 270,
 "data": {"name": "c"},
 "transform": [{"fold": ["s1","s2","s3","s4"], "as": ["k","v"]}],
 "title": {"text": "(c) Exodus (US)"},
 "encoding": {
  "x": {"field": "r", "type": "quantitative", "scale": {"domain": [0, 101], "nice": false}, "axis": {"values": [0,20,40,60,80,100], "format": "d", "title": "The Number of Run"}},
  "y": {"field": "v", "type": "quantitative", "scale": {"domain": [12593, 12844], "nice": false, "zero": false}, "axis": {"values": [12600,12650,12700,12750,12800], "format": "d", "title": "Total Error Bound(TEB)"}},
  "color": {"field": "k", "type": "nominal", "scale": {"domain": ["s1","s2","s3","s4"], "range": ["#ff0000","#ffa500","#ffff00","#008000"]}, "legend": {"title": null, "orient": "none", "legendX": 6, "legendY": 97, "labelOffset": 22, "labelFontSize": 13, "labelExpr": "datum.label == 's1' ? 'ε = 10' : datum.label == 's2' ? 'ε = 5' : datum.label == 's3' ? 'ε = 1' : 'ε = 0.1'"}}
 },
 "layer": [
  {"mark": {"type": "line", "strokeDash": [1.5, 2.5], "strokeWidth": 1.5}},
  {"mark": {"type": "point", "filled": true, "size": 28, "opacity": 1}, "encoding": {"order": {"field": "k", "type": "ordinal"}}}
 ]
},
{
 "width": 362, "height": 270,
 "data": {"name": "d"},
 "transform": [{"fold": ["s1","s2","s3","s4"], "as": ["k","v"]}],
 "title": {"text": "(d) Tiscali (Europe)"},
 "encoding": {
  "x": {"field": "r", "type": "quantitative", "scale": {"domain": [0, 101], "nice": false}, "axis": {"values": [0,20,40,60,80,100], "format": "d", "title": "The Number of Run"}},
  "y": {"field": "v", "type": "quantitative", "scale": {"domain": [11474, 11667], "nice": false, "zero": false}, "axis": {"values": [11475,11500,11525,11550,11575,11600,11625,11650], "format": "d", "title": "Total Error Bound(TEB)"}},
  "color": {"field": "k", "type": "nominal", "scale": {"domain": ["s1","s2","s3","s4"], "range": ["#ff0000","#ffa500","#ffff00","#008000"]}, "legend": {"title": null, "orient": "none", "legendX": 5, "legendY": 6, "labelOffset": 22, "labelFontSize": 13, "labelExpr": "datum.label == 's1' ? 'ε = 10' : datum.label == 's2' ? 'ε = 5' : datum.label == 's3' ? 'ε = 1' : 'ε = 0.1'"}}
 },
 "layer": [
  {"mark": {"type": "line", "strokeDash": [1.5, 2.5], "strokeWidth": 1.5}},
  {"mark": {"type": "point", "filled": true, "size": 28, "opacity": 1}, "encoding": {"order": {"field": "k", "type": "ordinal"}}}
 ]
}
]
}
